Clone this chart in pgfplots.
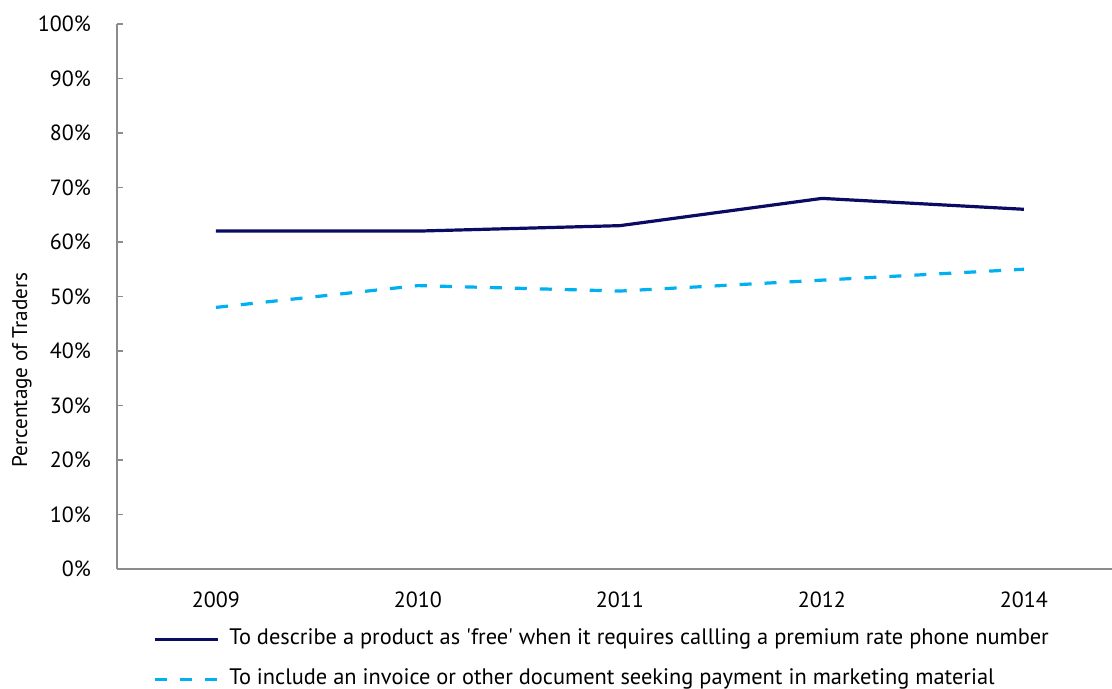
\documentclass[border=0pt]{standalone}
\usepackage{pgfplots}
\pgfplotsset{compat=1.18}
\usepackage{fontspec}
\setmainfont{PT Sans}[Ligatures=TeXOff]
\definecolor{navyline}{RGB}{10,12,100}
\definecolor{cyanline}{RGB}{0,176,240}
\definecolor{axgray}{RGB}{140,140,140}
\begin{document}
\begin{tikzpicture}
\begin{axis}[
  name=main,
  scale only axis,
  width=497.5pt, height=272.5pt,
  xmin=-0.49, xmax=4.436,
  ymin=0, ymax=100,
  axis lines=left,
  axis line style={-, draw=axgray, line width=0.9pt},
  xtick={0,1,2,3,4},
  xticklabels={2009,2010,2011,2012,2014},
  major x tick style={draw=none},
  ytick={0,10,...,100},
  yticklabels={0\%,10\%,20\%,30\%,40\%,50\%,60\%,70\%,80\%,90\%,100\%},
  tick align=inside,
  major tick length=3pt,
  every tick/.style={draw=axgray, line width=0.9pt},
  tick label style={font=\fontsize{11}{13}\selectfont, text=black},
  yticklabel style={xshift=-9.5pt},
  xticklabel style={yshift=-8pt},
  ylabel={Percentage of Traders},
  ylabel style={font=\fontsize{10.6}{13}\selectfont, at={(rel axis cs:-0.0955,0.365)}, anchor=center},
  legend style={draw=none, fill=none, at={(rel axis cs:0.036,-0.109)}, anchor=north west,
    font=\fontsize{11.2}{13}\selectfont, row sep=9.5pt, inner sep=0pt,
    nodes={inner sep=0pt, text height=8pt, text depth=2.5pt}},
  legend cell align=left,
  legend image code/.code={\draw[#1] (0pt,0pt) -- (31.5pt,0pt); \path (36.5pt,0pt);},
  clip=false,
]
\addplot[navyline, line width=1.6pt] coordinates {(0,62) (1,62) (2,63) (3,68) (4,66)};
\addlegendentry{To describe a product as 'free' when it requires callling a premium rate phone number}
\addplot[cyanline, line width=1.6pt, dash pattern=on 6pt off 6.5pt] coordinates {(0,48) (1,52) (2,51) (3,53) (4,55)};
\addlegendentry{To include an invoice or other document seeking payment in marketing material}
\end{axis}
\pgfresetboundingbox
\path[use as bounding box] ([xshift=-58.5pt,yshift=-60pt]main.south west) rectangle ([yshift=12pt]main.north east);
\end{tikzpicture}
\end{document}
